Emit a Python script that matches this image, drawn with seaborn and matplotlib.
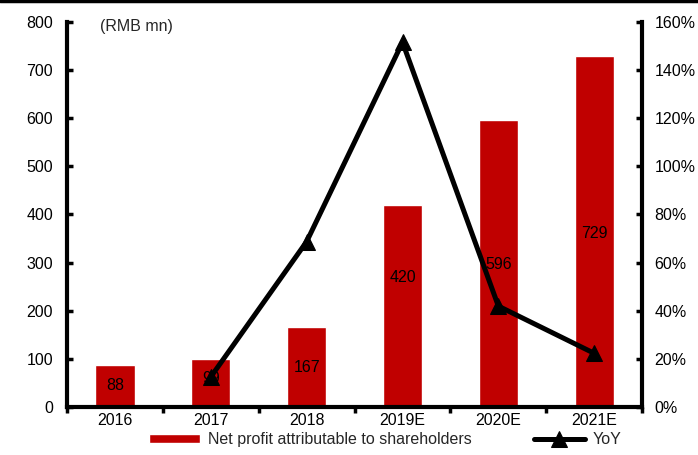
import matplotlib
matplotlib.use("Agg")
import matplotlib.pyplot as plt
import seaborn as sns
import numpy as np
import pandas as pd
from matplotlib.lines import Line2D
from matplotlib.ticker import FuncFormatter, MultipleLocator, FixedLocator

years = ["2016", "2017", "2018", "2019E", "2020E", "2021E"]
profit = [88, 99, 167, 420, 596, 729]
yoy_years = ["2017", "2018", "2019E", "2020E", "2021E"]
yoy = [12.5, 68.7, 151.5, 41.9, 22.3]
label_y = [45, 60, 83, 268, 295, 361]

sns.set_theme(style="white")
plt.rcParams["font.family"] = ["Liberation Sans", "DejaVu Sans"]
FS = 11.5

fig = plt.figure(figsize=(6.98, 4.55), dpi=100)
ax = fig.add_axes([0.096, 0.1055, 0.824, 0.8465])

df = pd.DataFrame({"year": years, "profit": profit})
sns.barplot(data=df, x="year", y="profit", color="#C00000", saturation=1,
            width=0.41, ax=ax, label="Net profit attributable to shareholders")
ax.set_xlim(-0.5, len(years) - 0.5)
ax.set_ylim(0, 800)
ax.yaxis.set_major_locator(MultipleLocator(100))
ax.set_xlabel("")
ax.set_ylabel("")
for i, (v, ly) in enumerate(zip(profit, label_y)):
    ax.text(i, ly, str(v), ha="center", va="center", fontsize=FS, color="black")

ax2 = ax.twinx()
xpos = [years.index(y) for y in yoy_years]
sns.lineplot(x=xpos, y=yoy, ax=ax2, color="black", linewidth=3.6, marker="^",
             markersize=12, markeredgecolor="black", label="YoY")
ax2.set_ylim(0, 160)
ax2.yaxis.set_major_locator(MultipleLocator(20))
ax2.yaxis.set_major_formatter(FuncFormatter(lambda v, p: f"{v:.0f}%"))
ax2.set_xlim(-0.5, len(years) - 0.5)

for a in (ax, ax2):
    for s in a.spines.values():
        s.set_visible(False)
ax.spines["left"].set_visible(True)
ax.spines["bottom"].set_visible(True)
ax2.spines["right"].set_visible(True)
for s in (ax.spines["left"], ax.spines["bottom"], ax2.spines["right"]):
    s.set_color("black")
    s.set_linewidth(3)

ax.tick_params(axis="y", direction="in", length=4, width=2.5, color="black",
               labelsize=FS, labelcolor="black", pad=10, left=True)
ax.tick_params(axis="x", which="major", length=0, labelsize=FS, labelcolor="black", pad=4)
ax.xaxis.set_minor_locator(FixedLocator(np.arange(-0.5, len(years), 1.0)))
ax.tick_params(axis="x", which="minor", direction="out", length=4, width=2.5,
               color="black", bottom=True)
ax2.tick_params(axis="y", direction="in", length=4, width=2.5, color="black",
                labelsize=FS, labelcolor="black", pad=9, right=True)

ax.text(0.057, 0.987, "(RMB mn)", transform=ax.transAxes, ha="left", va="center",
        fontsize=FS)

if ax.get_legend():
    ax.get_legend().remove()
if ax2.get_legend():
    ax2.get_legend().remove()
h1, l1 = ax.get_legend_handles_labels()
h2, l2 = ax2.get_legend_handles_labels()
fig.legend(h1 + h2, l1 + l2, loc="center", bbox_to_anchor=(0.552, 0.034), ncol=2,
           frameon=False, fontsize=FS, columnspacing=3.9, handlelength=3.2,
           handleheight=0.5, handletextpad=0.5, borderaxespad=0)

fig.add_artist(Line2D([0, 1], [0.997, 0.997], color="black", linewidth=2.5,
                      transform=fig.transFigure))

fig.savefig("out.png", dpi=100)
